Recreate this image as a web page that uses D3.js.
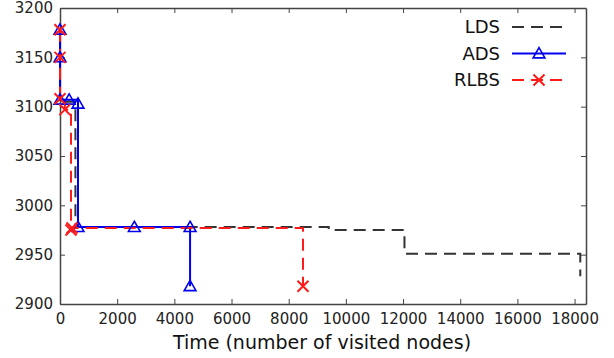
<!DOCTYPE html>
<html>
<head>
<meta charset="utf-8">
<script src="https://cdn.jsdelivr.net/npm/d3@7"></script>
<style>
  body { margin: 0; background: #fff; }
  svg { display: block; }
  text { font-family: "DejaVu Sans", Verdana, sans-serif; }
</style>
</head>
<body>
<div id="chart"></div>
<script>
// Data (time = visited nodes, value = solution cost)
var ldsTime  = [0, 0, 0, 540, 9400, 12050, 18200];
var ldsValue = [3178, 3150, 3105, 2978, 2975, 2951, 2928];

var adsTime  = [0, 0, 0, 320, 630, 630, 2600, 4550, 4550];
var adsValue = [3178, 3150, 3107, 3107, 3103, 2978, 2978, 2978, 2918];

var rlbsTime  = [0, 0, 0, 170, 385, 420, 8500];
var rlbsValue = [3178, 3150, 3108, 3097, 2975, 2977, 2918];

var xTicks = [0, 2000, 4000, 6000, 8000, 10000, 12000, 14000, 16000, 18000];
var yTicks = [2900, 2950, 3000, 3050, 3100, 3150, 3200];
var seriesNames = ["LDS", "ADS", "RLBS"];

var width = 614, height = 358;
var margin = { top: 8, right: 28, bottom: 54, left: 60 };

var svg = d3.select('#chart').append('svg')
    .attr('width', width)
    .attr('height', height);

var xScale = d3.scaleLinear().domain([0, 18400]).range([margin.left, width - margin.right]);
var yScale = d3.scaleLinear().domain([2900, 3200]).range([height - margin.bottom, margin.top]);

// axes, ticks pointing inwards on all four sides
svg.append('g').attr('class', 'axis')
    .attr('transform', 'translate(0,' + yScale.range()[0] + ')')
    .call(d3.axisBottom(xScale).tickValues(xTicks).tickSize(-5).tickSizeOuter(0).tickPadding(9).tickFormat(d3.format('d')));
svg.append('g').attr('class', 'axis')
    .attr('transform', 'translate(0,' + yScale.range()[1] + ')')
    .call(d3.axisTop(xScale).tickValues(xTicks).tickSize(-5).tickSizeOuter(0).tickFormat(''));
svg.append('g').attr('class', 'axis')
    .attr('transform', 'translate(' + xScale.range()[0] + ',0)')
    .call(d3.axisLeft(yScale).tickValues(yTicks).tickSize(-5).tickSizeOuter(0).tickPadding(7).tickFormat(d3.format('d')));
svg.append('g').attr('class', 'axis')
    .attr('transform', 'translate(' + xScale.range()[1] + ',0)')
    .call(d3.axisRight(yScale).tickValues(yTicks).tickSize(-5).tickSizeOuter(0).tickFormat(''));

svg.selectAll('.axis path').attr('stroke', '#444').attr('stroke-width', 1.5);
svg.selectAll('.axis line').attr('stroke', '#444');
svg.selectAll('.axis text')
    .style('font-family', '"DejaVu Sans", Verdana, sans-serif')
    .style('font-size', '15px')
    .attr('fill', '#222');

// lines
function zip(t, v) { return t.map((d, i) => [d, v[i]]); }
var line = d3.line().x(d => xScale(d[0])).y(d => yScale(d[1])).curve(d3.curveStepAfter);

var series = [
  { name: 'LDS', data: zip(ldsTime, ldsValue), color: '#333333', dash: '12,7', marker: null },
  { name: 'ADS', data: zip(adsTime, adsValue), color: '#0000ee', dash: null, marker: 'tri' },
  { name: 'RLBS', data: zip(rlbsTime, rlbsValue), color: '#ff1a1a', dash: '12,7', marker: 'x' }
];

var tri = d3.symbol().type(d3.symbolTriangle).size(60);

function drawMarker(g, type, color, x, y) {
  if (type === 'tri') {
    g.append('path').attr('d', tri()).attr('transform', 'translate(' + x + ',' + (y + 1) + ')')
      .attr('fill', 'none').attr('stroke', color).attr('stroke-width', 1.6);
  } else if (type === 'x') {
    var s = 5.5;
    g.append('path').attr('d', 'M' + (x - s) + ',' + (y - s) + 'L' + (x + s) + ',' + (y + s) + 'M' + (x - s) + ',' + (y + s) + 'L' + (x + s) + ',' + (y - s))
      .attr('stroke', color).attr('stroke-width', 2);
  }
}

series.forEach(s => {
  svg.append('path').datum(s.data)
    .attr('d', line)
    .attr('fill', 'none')
    .attr('stroke', s.color)
    .attr('stroke-width', 2)
    .attr('stroke-dasharray', s.dash);
});

// markers, RLBS drawn last so it sits on top
series.forEach(s => {
  var g = svg.append('g');
  s.data.forEach(d => drawMarker(g, s.marker, s.color, xScale(d[0]), yScale(d[1])));
});

// legend
var legend = svg.append('g');
series.forEach((s, i) => {
  var y = 27 + i * 26.5;
  legend.append('text')
    .attr('x', 500).attr('y', y)
    .attr('dy', '0.35em')
    .attr('text-anchor', 'end')
    .style('font-size', '18px')
    .attr('fill', '#111')
    .text(seriesNames[i]);
  legend.append('line')
    .attr('x1', 512).attr('x2', 566).attr('y1', y).attr('y2', y)
    .attr('stroke', s.color).attr('stroke-width', 2)
    .attr('stroke-dasharray', s.dash);
  drawMarker(legend, s.marker, s.color, 539, y);
});

// axis title
svg.append('text')
    .attr('x', 322)
    .attr('y', 349)
    .attr('text-anchor', 'middle')
    .style('font-size', '19px')
    .attr('fill', '#111')
    .text('Time (number of visited nodes)');
</script>
</body>
</html>
